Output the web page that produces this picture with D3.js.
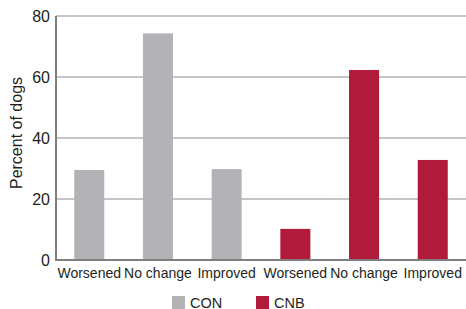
<!DOCTYPE html>
<html>
<head>
<meta charset="utf-8">
<script src="https://cdn.jsdelivr.net/npm/d3@7"></script>
<style>
  html, body { margin: 0; padding: 0; background: #fff; }
  svg text { font-family: "Liberation Sans", Arial, sans-serif; fill: #231f20; }
</style>
</head>
<body>
<svg id="chart" width="466" height="309"></svg>
<script>
// bar chart: percent of dogs by outcome, CON vs CNB

const outcomes = ["Worsened", "No change", "Improved"];
const groups = ["CON", "CNB"];
const conValues = [29.5, 74.3, 29.8];
const cnbValues = [10.2, 62.3, 32.8];
const yTicks = [0, 20, 40, 60, 80];

const colors = { CON: "#b3b2b7", CNB: "#b21a3b" };

const rows = [
  ...outcomes.map((o, i) => ({ key: "CON-" + i, label: o, group: "CON", value: conValues[i] })),
  ...outcomes.map((o, i) => ({ key: "CNB-" + i, label: o, group: "CNB", value: cnbValues[i] })),
];

const svg = d3.select("#chart");
const margin = { top: 16, right: 0, bottom: 49, left: 56 };
const width = 466, height = 309;

const x = d3.scaleBand()
  .domain(rows.map((d) => d.key))
  .range([margin.left - 1, width + 1])
  .paddingInner(0.563)
  .paddingOuter(0.28);

const y = d3.scaleLinear()
  .domain([0, 80])
  .range([height - margin.bottom, margin.top]);

// gridlines
svg.append("g")
  .selectAll("line")
  .data(yTicks.filter((t) => t > 0))
  .join("line")
  .attr("x1", margin.left)
  .attr("x2", width)
  .attr("y1", (d) => y(d))
  .attr("y2", (d) => y(d))
  .attr("stroke", "#8c8c8c")
  .attr("stroke-width", 1);

// bars
svg.append("g")
  .selectAll("rect")
  .data(rows)
  .join("rect")
  .attr("x", (d) => x(d.key))
  .attr("width", x.bandwidth())
  .attr("y", (d) => y(d.value))
  .attr("height", (d) => y(0) - y(d.value))
  .attr("fill", (d) => colors[d.group]);

// axes lines
svg.append("line")
  .attr("x1", margin.left).attr("x2", margin.left)
  .attr("y1", y(80)).attr("y2", y(0) + 1)
  .attr("stroke", "#7f7f7f").attr("stroke-width", 2);

svg.append("line")
  .attr("x1", margin.left - 1).attr("x2", width)
  .attr("y1", y(0)).attr("y2", y(0))
  .attr("stroke", "#7f7f7f").attr("stroke-width", 2);

// y tick labels
svg.append("g")
  .selectAll("text")
  .data(yTicks)
  .join("text")
  .attr("x", margin.left - 6)
  .attr("y", (d) => y(d))
  .attr("dy", "0.36em")
  .attr("text-anchor", "end")
  .style("font-size", "16px")
  .text((d) => d);

// category labels
svg.append("g")
  .selectAll("text")
  .data(rows)
  .join("text")
  .attr("x", (d) => x(d.key) + x.bandwidth() / 2)
  .attr("y", 278)
  .attr("text-anchor", "middle")
  .style("font-size", "14px")
  .text((d) => d.label);

// y axis title
svg.append("text")
  .attr("transform", "translate(22," + 133 + ") rotate(-90)")
  .attr("text-anchor", "middle")
  .style("font-size", "16px")
  .text("Percent of dogs");

// legend
const legend = svg.append("g")
  .selectAll("g")
  .data(groups)
  .join("g")
  .attr("transform", (d, i) => "translate(" + (172 + i * 84) + ",296)");

legend.append("rect")
  .attr("width", 13)
  .attr("height", 13)
  .attr("fill", (d) => colors[d]);

legend.append("text")
  .attr("x", 18)
  .attr("y", 11.5)
  .style("font-size", "14.5px")
  .text((d) => d);
</script>
</body>
</html>
